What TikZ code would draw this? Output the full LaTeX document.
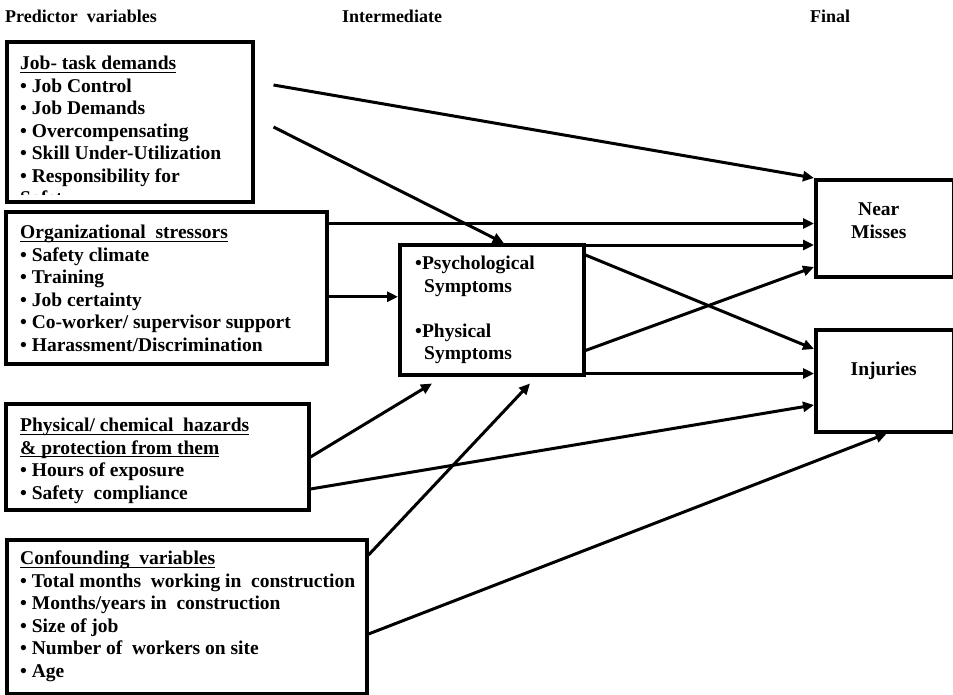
\documentclass[tikz,border=0pt]{standalone}
\usepackage{fontspec}
\setmainfont{Liberation Serif}
\usetikzlibrary{arrows.meta,calc}
\newcommand{\ulbar}[1]{\setbox0\hbox{#1}\rlap{\rule[-3pt]{\wd0}{1.2pt}}\box0}

\begin{document}
\begin{tikzpicture}[x=1pt, y=-1pt,
    stage/.style={font=\fontsize{18}{20}\selectfont\bfseries, inner sep=0pt, anchor=base},
    factorbox/.style={rectangle, draw=black, line width=3.5pt, inner sep=0pt, anchor=north west},
    boxtxt/.style={font=\fontsize{19.5}{22.5}\selectfont\bfseries, align=left,
        inner sep=0pt, anchor=north west},
    arr/.style={-{Triangle[length=11pt, width=10pt]}, line width=3pt}
]
    \useasboundingbox (0,0) rectangle (953,694);

    % Column headings
    \node[stage] (hdpred) at (81,22) {Predictor\ \ variables};
    \node[stage] (hdinter) at (392,22) {Intermediate};
    \node[stage] (hdfinal) at (830,22) {Final};

    % Predictor boxes
    \node[factorbox, minimum width=246, minimum height=160] (jobdem) at (5,40) {};
    \node[factorbox, minimum width=321, minimum height=152] (orgstress) at (4,210) {};
    \node[factorbox, minimum width=303, minimum height=106] (hazards) at (4,402) {};
    \node[factorbox, minimum width=360, minimum height=154] (confound) at (5,538) {};

    % Intermediate and final boxes
    \node[factorbox, minimum width=184, minimum height=130] (sympt) at (398,243) {};
    \node[factorbox, minimum width=138, minimum height=97] (nearmiss) at (814,178) {};
    \node[factorbox, minimum width=138, minimum height=102] (injury) at (814,328) {};

    % Box texts
    \begin{scope}
        \clip (jobdem.north west) rectangle ($(jobdem.south east)+(0,-9.5)$);
        \node[boxtxt] (jobdemtxt) at ($(jobdem.north west)+(15,16)$)
            {\ulbar{Job- task demands}\\
             \textbullet\ Job Control\\
             \textbullet\ Job Demands\\
             \textbullet\ Overcompensating\\
             \textbullet\ Skill Under-Utilization\\
             \textbullet\ Responsibility for\\
             Safety};
    \end{scope}
    \node[boxtxt] (orgstresstxt) at ($(orgstress.north west)+(16,15)$)
        {\ulbar{Organizational\ \ stressors}\\
         \textbullet\ Safety climate\\
         \textbullet\ Training\\
         \textbullet\ Job certainty\\
         \textbullet\ Co-worker/ supervisor support\\
         \textbullet\ Harassment/Discrimination};
    \node[boxtxt] (hazardstxt) at ($(hazards.north west)+(16,16)$)
        {\ulbar{Physical/ chemical\ \ hazards}\\
         \ulbar{\& protection from them}\\
         \textbullet\ Hours of exposure\\
         \textbullet\ Safety\ \ compliance};
    \node[boxtxt] (confoundtxt) at ($(confound.north west)+(15,13)$)
        {\ulbar{Confounding\ \ variables}\\
         \textbullet\ Total months\ \ working in\ \ construction\\
         \textbullet\ Months/years in\ \ construction\\
         \textbullet\ Size of job\\
         \textbullet\ Number of\ \ workers on site\\
         \textbullet\ Age};
    \node[boxtxt] (sympttxt) at ($(sympt.north west)+(17,13)$)
        {\textbullet Psychological\\
         \hspace*{9pt}Symptoms\\[22.5pt]
         \textbullet Physical\\
         \hspace*{9pt}Symptoms};
    \node[boxtxt, align=center, anchor=north] (nearmisstxt) at ($(nearmiss.north)+(-6,25)$)
        {Near\\Misses};
    \node[boxtxt, anchor=base] (injurytxt) at ($(injury.north)+(-1,47)$) {Injuries};

    % Paths from predictors
    \draw[arr] ($(jobdem.north east)+(19,45)$) -- (nearmiss.north west);
    \draw[arr] ($(jobdem.north east)+(19,87)$) -- ($(sympt.north)+(12,0)$);
    \draw[arr] ($(orgstress.north east)+(0,13.5)$) -- ($(nearmiss.north west)+(0,45.5)$);
    \draw[arr] ($(orgstress.east)+(0,9)$) -- ($(sympt.west)+(0,-13)$);
    \draw[arr] ($(hazards.north east)+(0,55)$) -- ($(sympt.south west)+(34,7)$);
    \draw[arr] ($(hazards.north east)+(0,87)$) -- ($(injury.north west)+(0,77)$);
    \draw[arr] ($(confound.north east)+(0,17)$) -- ($(sympt.south west)+(132,7)$);
    \draw[arr] ($(confound.north east)+(0,96)$) -- ($(injury.south)+(2,0)$);

    % Paths from symptoms to outcomes
    \draw[arr] ($(sympt.north east)+(0,2)$) -- ($(nearmiss.north west)+(0,67)$);
    \draw[arr] ($(sympt.north east)+(0,12)$) -- ($(injury.north west)+(0,21)$);
    \draw[arr] ($(sympt.south east)+(0,-26)$) -- ($(nearmiss.north west)+(0,89)$);
    \draw[arr] ($(sympt.south east)+(0,-3)$) -- ($(injury.north west)+(0,45.5)$);
\end{tikzpicture}
\end{document}
